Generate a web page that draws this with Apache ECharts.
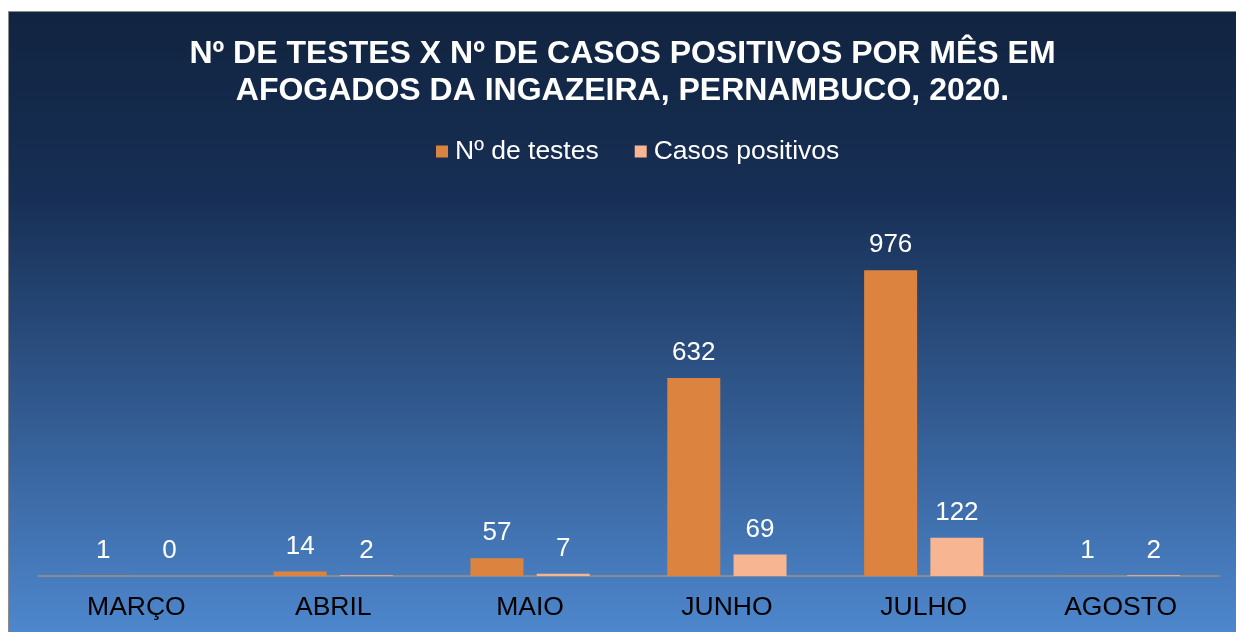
<!DOCTYPE html>
<html>
<head>
<meta charset="utf-8">
<script src="https://cdn.jsdelivr.net/npm/echarts@6/dist/echarts.min.js"></script>
<style>
  html, body { margin: 0; padding: 0; background: #fff; overflow: hidden; }
  #chart { position: absolute; left: 8px; top: 11px; width: 1227px; height: 620px;
           border-left: 1px solid #8c8c8c; border-top: 1px solid #8c8c8c; }
</style>
</head>
<body>
<div id="chart"></div>
<script>
  // meses e valores
  const meses = ['MARÇO', 'ABRIL', 'MAIO', 'JUNHO', 'JULHO', 'AGOSTO'];
  const testes = [1, 14, 57, 632, 976, 1];
  const positivos = [0, 2, 7, 69, 122, 2];

  const myChart = echarts.init(document.getElementById('chart'));
  const font = 'Liberation Sans, Arial, sans-serif';

  const option = {
    backgroundColor: {
      type: 'linear', x: 0, y: 0, x2: 0, y2: 1,
      colorStops: [
        { offset: 0, color: '#112440' },
        { offset: 0.3, color: '#172f55' },
        { offset: 1, color: '#4e87cd' },
      ],
    },
    title: {
      text: 'Nº DE TESTES X Nº DE CASOS POSITIVOS POR MÊS EM\nAFOGADOS DA INGAZEIRA, PERNAMBUCO, 2020.',
      left: 'center',
      top: 19,
      textStyle: {
        color: '#ffffff', fontFamily: font, fontWeight: 'bold',
        fontSize: 32, lineHeight: 37,
      },
    },
    legend: {
      top: 121,
      left: 422,
      itemWidth: 12,
      itemHeight: 12,
      itemGap: 36,
      icon: 'rect',
      textStyle: { color: '#ffffff', fontFamily: font, fontSize: 26.5, padding: [0, 0, 0, 2] },
      data: ['Nº de testes', 'Casos positivos'],
    },
    grid: { left: 29, right: 17, top: 188, bottom: 56 },
    xAxis: {
      type: 'category',
      data: meses,
      axisLine: { lineStyle: { color: '#8a8a8a', width: 2 } },
      axisTick: { show: false },
      axisLabel: { color: '#000000', fontFamily: font, fontSize: 26.5, margin: 18 },
    },
    yAxis: {
      type: 'value',
      min: 0,
      max: 1200,
      show: false,
      splitLine: { show: false },
    },
    series: [
      {
        name: 'Nº de testes',
        type: 'bar',
        data: testes,
        barWidth: 53,
        barGap: '25%',
        itemStyle: { color: '#dc843f' },
        label: {
          show: true, position: 'top', distance: 12,
          color: '#ffffff', fontFamily: font, fontSize: 26,
        },
      },
      {
        name: 'Casos positivos',
        type: 'bar',
        data: positivos,
        barWidth: 53,
        itemStyle: { color: '#f8b591' },
        label: {
          show: true, position: 'top', distance: 12,
          color: '#ffffff', fontFamily: font, fontSize: 26,
        },
      },
    ],
  };

  myChart.setOption(option);
</script>
</body>
</html>
